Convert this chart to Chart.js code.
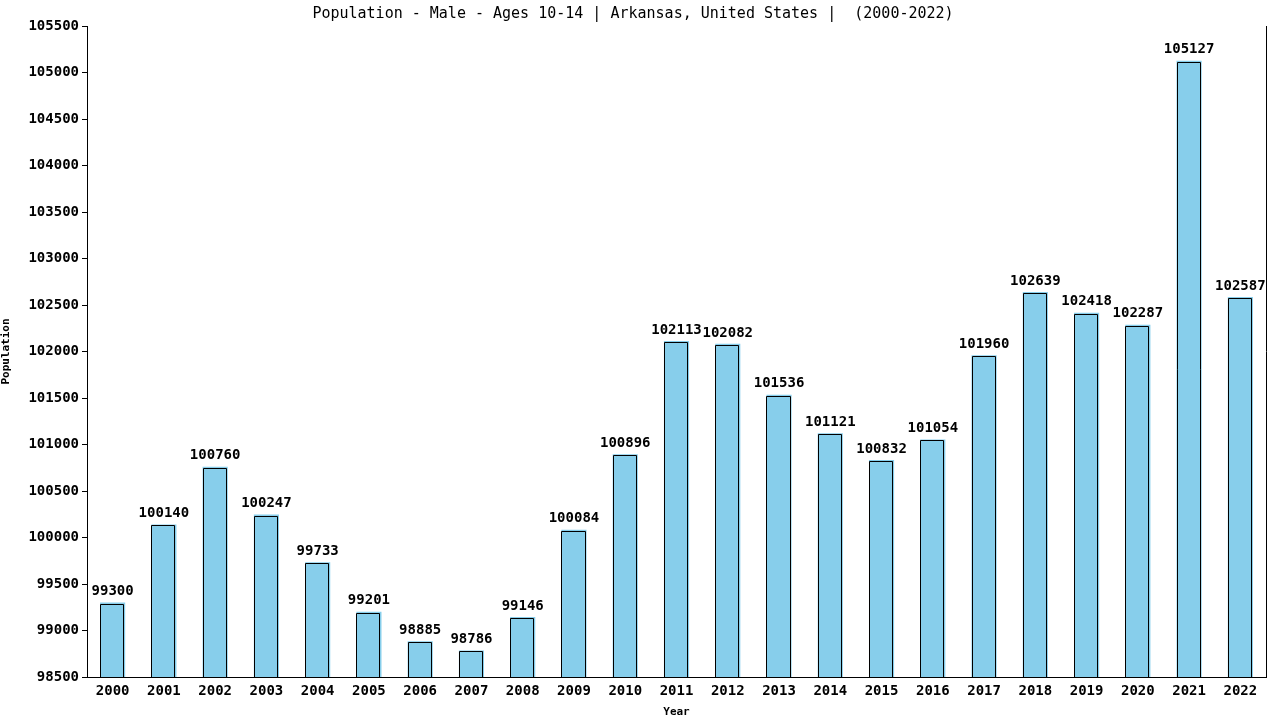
<!DOCTYPE html>
<html><head><meta charset="utf-8">
<script src="https://cdn.jsdelivr.net/npm/chart.js@4.4.0/dist/chart.umd.min.js"></script>
<style>html,body{margin:0;padding:0;background:#fff}#wrap{width:1280px;height:720px}</style>
</head><body><div id="wrap"><canvas id="c"></canvas></div>
<script>
const years = ["2000","2001","2002","2003","2004","2005","2006","2007","2008","2009","2010","2011","2012","2013","2014","2015","2016","2017","2018","2019","2020","2021","2022"];
const population = [99300,100140,100760,100247,99733,99201,98885,98786,99146,100084,100896,102113,102082,101536,101121,100832,101054,101960,102639,102418,102287,105127,102587];
const titleText = "Population - Male - Ages 10-14 | Arkansas, United States |  (2000-2022)";
const yMin = 98500, yMax = 105500, yStep = 500;

const mono = "'DejaVu Sans Mono', monospace";

const extras = {
  id: 'extras',
  afterDatasetsDraw(chart) {
    const ctx = chart.ctx, ca = chart.chartArea;
    ctx.save();
    ctx.strokeStyle = '#000'; ctx.lineWidth = 1;
    ctx.beginPath(); ctx.moveTo(Math.round(ca.right) + 0.5, ca.top); ctx.lineTo(Math.round(ca.right) + 0.5, ca.bottom); ctx.stroke();
    const meta = chart.getDatasetMeta(0);
    meta.data.forEach((bar) => {
      const l = Math.round(bar.x - bar.width / 2) + 0.5;
      const r = Math.round(bar.x + bar.width / 2) - 1.5;
      const t = Math.round(bar.y) + 1.5;
      const b = Math.round(ca.bottom);
      ctx.beginPath(); ctx.moveTo(l, b); ctx.lineTo(l, t); ctx.lineTo(r, t); ctx.lineTo(r, b); ctx.stroke();
    });
    ctx.fillStyle = '#000';
    ctx.font = "bold 14px " + mono;
    ctx.textAlign = 'center'; ctx.textBaseline = 'bottom';
    meta.data.forEach((bar, i) => {
      ctx.fillText(String(population[i]), bar.x, bar.y - 4);
    });
    ctx.restore();
  }
};

new Chart(document.getElementById('c'), {
  type: 'bar',
  data: {
    labels: years,
    datasets: [{
      data: population,
      backgroundColor: '#87CEEB',
      borderWidth: 0,
      categoryPercentage: 1,
      barPercentage: 0.49
    }]
  },
  options: {
    responsive: true, maintainAspectRatio: false, animation: false,
    layout: {padding: {left: 0, right: 14, top: 0, bottom: 0}},
    plugins: {
      legend: {display: false}, tooltip: {enabled: false},
      title: {display: true, text: titleText, color: '#000', font: {family: mono, size: 15, weight: 'normal'}, padding: {top: 5, bottom: 3}}
    },
    scales: {
      x: {
        grid: {display: false, drawTicks: false},
        border: {display: true, color: '#000', width: 1},
        ticks: {color: '#000', font: {family: mono, size: 14, weight: 'bold'}, padding: 6, maxRotation: 0, autoSkip: false},
        title: {display: true, text: 'Year', color: '#000', font: {family: mono, size: 11, weight: 'bold'}, padding: {top: 0, bottom: 1}}
      },
      y: {
        min: yMin, max: yMax,
        grid: {drawOnChartArea: false, drawTicks: true, tickLength: 5, color: '#000'},
        border: {display: true, color: '#000', width: 1},
        ticks: {stepSize: yStep, color: '#000', font: {family: mono, size: 14, weight: 'bold'}, padding: 3, callback: (v) => String(v)},
        title: {display: true, text: 'Population', color: '#000', font: {family: mono, size: 11, weight: 'bold'}, padding: {top: 0, bottom: 4}},
        afterFit(scale) { scale.width = 87; }
      }
    }
  },
  plugins: [extras]
});
</script></body></html>
